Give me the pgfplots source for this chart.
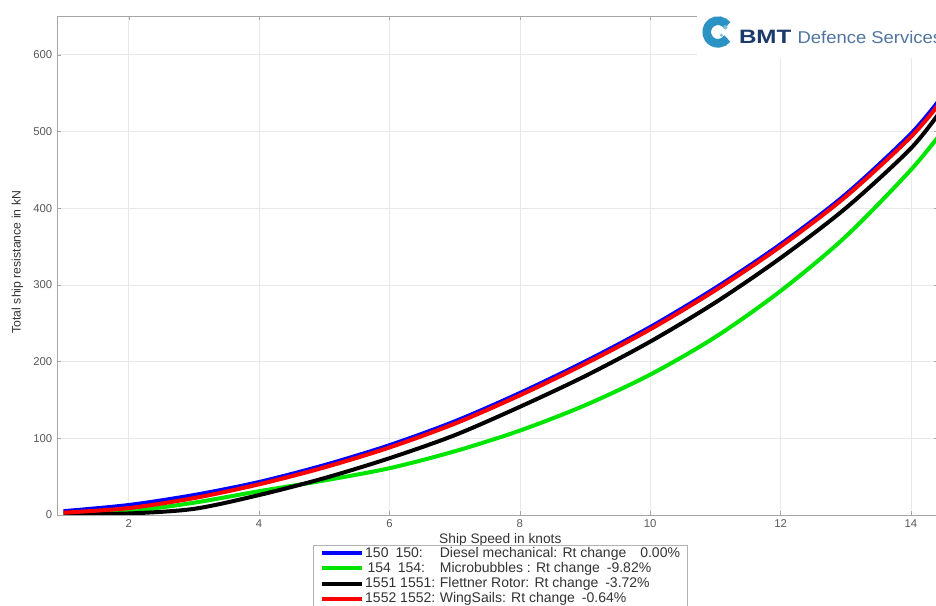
\documentclass[border=0pt]{standalone}
\usepackage{fontspec}
\setmainfont{Liberation Sans}
\usepackage{pgfplots}
\pgfplotsset{compat=1.18}

\definecolor{bmtnavy}{HTML}{1B3A6B}
\definecolor{bmtlight}{HTML}{4F75A0}
\definecolor{bmtteal}{HTML}{2A93C4}

% resistance curves, kN vs knots
\pgfplotstableread{
v    diesel micro  flettner wing
1    5      2      1        3
2    13     5      2        9
3    26     16     8        22
4    43     31     26       40
5    65     45     48       62
6    91     61     74       88
7    122    83     104      119
8    159    110    141      156
9    200    143    181      197
10   245    183    226      242
11   296    232    277      293
12   353    292    335      350
13   418    363    400      415
14   497    450    478      493
14.5 548    502    532      543
}\rtdata

\newcommand{\pre}[1]{\makebox[56pt][l]{#1}}

\begin{document}
\begin{tikzpicture}
\begin{axis}[
    at={(42.75pt,68.25pt)}, anchor=south west,
    scale only axis, width=661pt, height=374pt,
    xmin=0.9, xmax=14.42, ymin=0, ymax=650,
    xtick={2,4,...,14}, ytick={0,100,...,600},
    grid=major, major grid style={gray!18},
    axis line style={gray!70}, tick style={gray!70},
    tick align=inside, major tick length=3pt,
    ticklabel style={font=\fontsize{8.5}{10}\selectfont, text=black!65},
    /pgf/number format/assume math mode=true,
    xlabel={Ship Speed in knots},
    ylabel={Total ship resistance in kN},
    label style={text=black!80},
    xlabel style={font=\fontsize{10.3}{12}\selectfont,
        at={(axis description cs:0.503,-0.036)}, anchor=north, inner sep=0pt},
    ylabel style={font=\fontsize{9.2}{11}\selectfont,
        at={(axis description cs:-0.045,0.507)}, anchor=center, inner sep=0pt},
    legend style={at={(axis description cs:0.291,-0.06)}, anchor=north west,
        draw=gray!60, font=\fontsize{10.5}{12}\selectfont, text=black!80,
        inner xsep=5pt, inner ysep=1pt, nodes={inner sep=0.6pt},
        row sep=1pt, cells={anchor=west}},
    legend image code/.code={\draw[#1] (0pt,0pt) -- (30pt,0pt);},
    every axis plot/.append style={line width=3pt, smooth},
]
\addplot[blue] table[x=v, y=diesel] {\rtdata};
\addlegendentry{\pre{150\enspace 150:}Diesel mechanical: Rt change\quad 0.00\%}
\addplot[green!90!black!100] table[x=v, y=micro] {\rtdata};
\addlegendentry{\pre{\,154\enspace 154:}Microbubbles : Rt change\enspace -9.82\%}
\addplot[black] table[x=v, y=flettner] {\rtdata};
\addlegendentry{\pre{1551 1551:}Flettner Rotor: Rt change\enspace -3.72\%}
\addplot[red] table[x=v, y=wing] {\rtdata};
\addlegendentry{\pre{1552 1552:}WingSails: Rt change\enspace -0.64\%}
\end{axis}

% logo
\fill[white] (522.75pt,411pt) rectangle (702pt,454.5pt);
\draw[bmtteal, line width=6.5pt] (538.5pt,430.5pt) ++(35:8.5pt) arc[start angle=35, end angle=325, radius=8.5pt];
\fill[bmtteal!60] (544pt,434pt) circle (1.6pt);
\fill[bmtteal!60] (541pt,428pt) circle (1.3pt);
\node[anchor=base west, inner sep=0pt, xscale=1.25, font=\fontsize{14.5}{16}\selectfont\bfseries, text=bmtnavy]
    at (554pt,422pt) {BMT};
\node[anchor=base west, inner sep=0pt, xscale=1.08, font=\fontsize{12.8}{16}\selectfont, text=bmtlight]
    at (598pt,422pt) {Defence Services};

\pgfresetboundingbox
\useasboundingbox (0,0) rectangle (702pt,454.5pt);
\end{tikzpicture}
\end{document}
